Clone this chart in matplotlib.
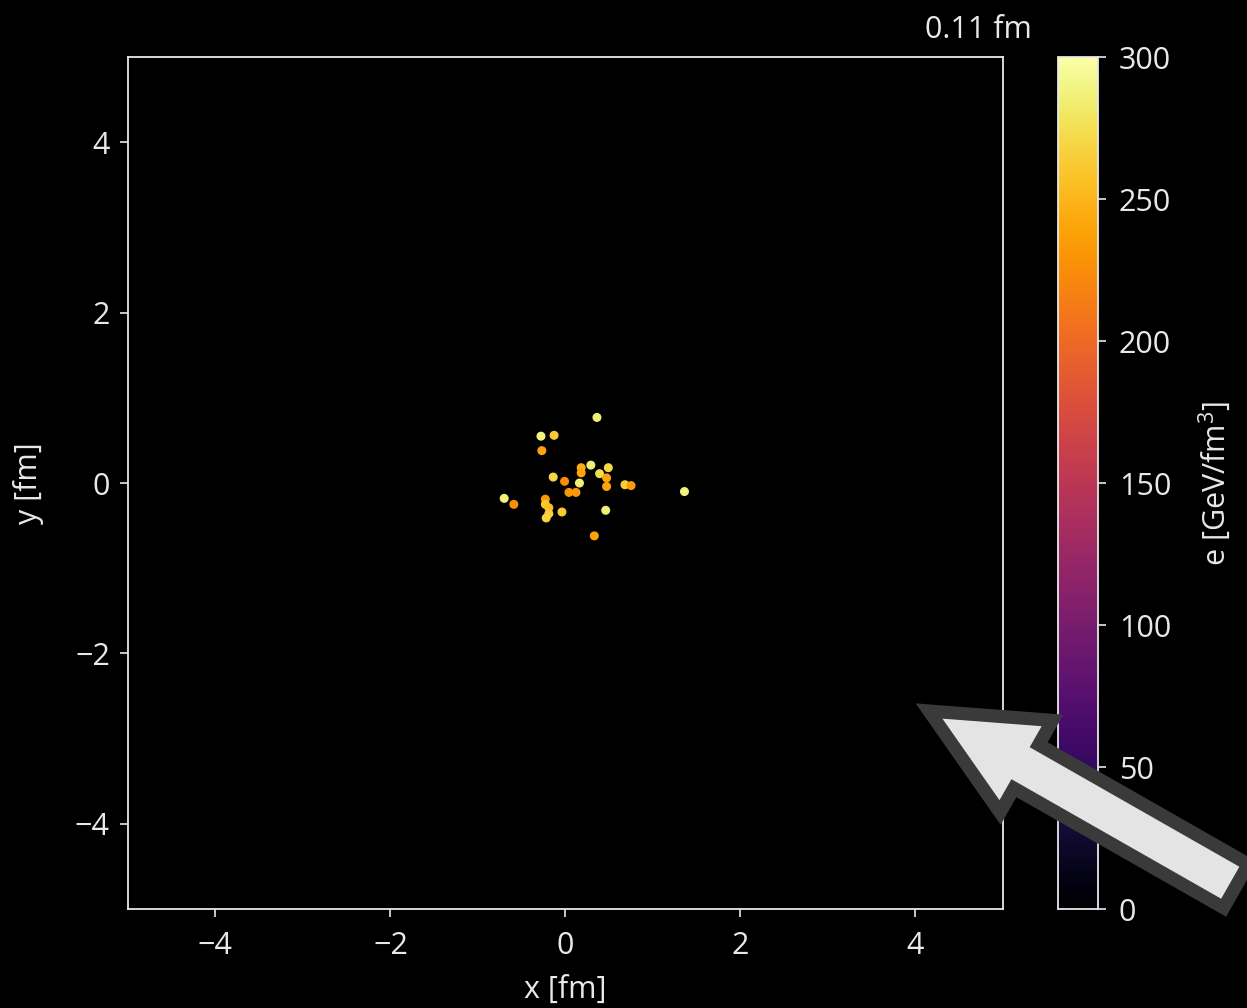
import matplotlib

matplotlib.use("Agg")
import matplotlib.pyplot as plt
from matplotlib.patches import FancyArrow

plt.style.use("dark_background")
plt.rcParams["font.family"] = ["Open Sans", "DejaVu Sans"]
plt.rcParams["mathtext.fontset"] = "custom"
plt.rcParams["mathtext.rm"] = "Open Sans"

# fluid cells at t = 0.11 fm: transverse position [fm] and energy density [GeV/fm^3]
x_fm = [0.36, -0.28, -0.13, -0.27, 0.29, 0.18, 0.18, 0.49, 0.39, 0.47,
        -0.14, -0.01, 0.16, 0.47, 0.68, 0.75, 0.04, 0.12, 1.36, -0.70,
        -0.59, -0.23, -0.23, -0.19, -0.19, -0.22, -0.04, 0.46, 0.33]
y_fm = [0.77, 0.55, 0.56, 0.38, 0.21, 0.18, 0.12, 0.18, 0.11, 0.06,
        0.07, 0.02, 0.00, -0.04, -0.02, -0.03, -0.11, -0.11, -0.10, -0.18,
        -0.25, -0.19, -0.25, -0.29, -0.36, -0.41, -0.34, -0.32, -0.62]
e_dens = [285, 288, 262, 238, 285, 245, 240, 270, 272, 240,
          270, 225, 285, 240, 265, 235, 232, 232, 288, 288,
          228, 232, 262, 255, 265, 268, 262, 285, 238]
time_label = "0.11 fm"
cbar_ticks = [0, 50, 100, 150, 200, 250, 300]

FS = 22
FG = "#e8e8e8"

fig = plt.figure(figsize=(12.47, 10.08), dpi=100)
ax = fig.add_axes([0.1026, 0.0982, 0.7017, 0.8452])
cax = fig.add_axes([0.8484, 0.0982, 0.0321, 0.8452])

sc = ax.scatter(x_fm, y_fm, c=e_dens, cmap="inferno", vmin=0, vmax=300,
                s=30, linewidths=1.0)
ax.set_xlim(-5, 5)
ax.set_ylim(-5, 5)
ax.set_xticks([-4, -2, 0, 2, 4])
ax.set_yticks([-4, -2, 0, 2, 4])
ax.tick_params(labelsize=FS, length=6, width=1.2, pad=7, colors=FG)
ax.tick_params(axis="x", pad=10)
for sp in ax.spines.values():
    sp.set_color(FG)
    sp.set_linewidth(1.3)
ax.set_xlabel("x [fm]", fontsize=FS, color=FG, labelpad=10)
ax.set_ylabel("y [fm]", fontsize=FS, color=FG, labelpad=22)

cb = fig.colorbar(sc, cax=cax, ticks=cbar_ticks)
cb.ax.tick_params(labelsize=FS, length=6, width=1.2, pad=9, colors=FG)
cb.outline.set_edgecolor(FG)
cb.outline.set_linewidth(1.3)
cb.set_label("e [GeV/fm$^3$]", fontsize=FS, color=FG, labelpad=18)

fig.text(1032 / 1247, 1 - 30 / 1008, time_label, ha="right", va="center",
         fontsize=FS, color=FG)

# pointer arrow drawn on top, in pixel units over the whole figure
over = fig.add_axes([0, 0, 1, 1])
over.set_xlim(0, 1247)
over.set_ylim(1008, 0)
over.axis("off")
tail = (1236, 886)
tip = (929, 711)
over.add_patch(FancyArrow(tail[0], tail[1], tip[0] - tail[0], tip[1] - tail[1],
                          width=50, head_width=106, head_length=112,
                          length_includes_head=True, facecolor="#e4e4e4",
                          edgecolor="#3a3a3a", linewidth=9.5,
                          joinstyle="miter"))

fig.savefig("out.png", dpi=100)
